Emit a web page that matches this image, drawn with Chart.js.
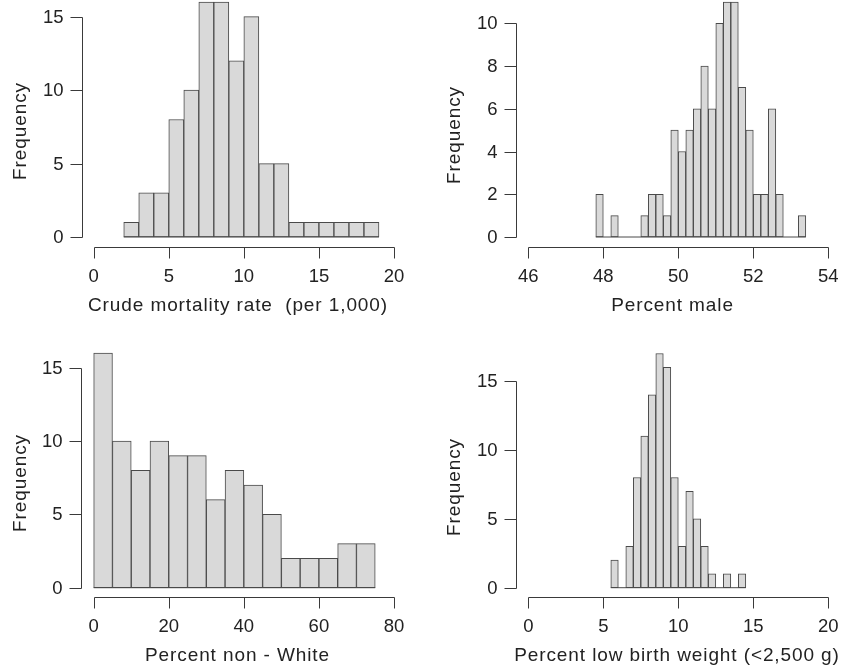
<!DOCTYPE html>
<html>
<head>
<meta charset="utf-8">
<script src="https://cdn.jsdelivr.net/npm/chart.js@4"></script>
<style>
  html, body { margin: 0; padding: 0; background: #ffffff; }
  #wrap { position: relative; width: 846px; height: 672px; overflow: hidden; }
  .panel { position: absolute; }
</style>
</head>
<body>
<div id="wrap">
  <div class="panel" style="left:0px;top:0px;"><canvas id="c1" width="423" height="320"></canvas></div>
  <div class="panel" style="left:423px;top:0px;"><canvas id="c2" width="423" height="320"></canvas></div>
  <div class="panel" style="left:0px;top:320px;"><canvas id="c3" width="423" height="352"></canvas></div>
  <div class="panel" style="left:423px;top:320px;"><canvas id="c4" width="423" height="352"></canvas></div>
</div>
<script>
// ---------- DATA ----------
const mortalityBinStart = 2;
const mortalityBinWidth = 1;
const mortalityCounts = [1, 3, 3, 8, 10, 16, 16, 12, 15, 5, 5, 1, 1, 1, 1, 1, 1];
const mortalityXTicks = [0, 5, 10, 15, 20];
const mortalityYTicks = [0, 5, 10, 15];

const maleBinStart = 47.8;
const maleBinWidth = 0.2;
const maleCounts = [2, 0, 1, 0, 0, 0, 1, 2, 2, 1, 5, 4, 5, 6, 8, 6, 10, 11, 11, 7, 5, 2, 2, 6, 2, 0, 0, 1];
const maleXTicks = [46, 48, 50, 52, 54];
const maleYTicks = [0, 2, 4, 6, 8, 10];

const nonWhiteBinStart = 0;
const nonWhiteBinWidth = 5;
const nonWhiteCounts = [16, 10, 8, 10, 9, 9, 6, 8, 7, 5, 2, 2, 2, 3, 3];
const nonWhiteXTicks = [0, 20, 40, 60, 80];
const nonWhiteYTicks = [0, 5, 10, 15];

const lbwBinStart = 5.5;
const lbwBinWidth = 0.5;
const lbwCounts = [2, 0, 3, 8, 11, 14, 17, 16, 8, 3, 7, 5, 3, 1, 0, 1, 0, 1];
const lbwXTicks = [0, 5, 10, 15, 20];
const lbwYTicks = [0, 5, 10, 15];

const yAxisTitle = "Frequency";
const xTitles = [
  "Crude mortality rate  (per 1,000)",
  "Percent male",
  "Percent non - White",
  "Percent low birth weight (<2,500 g)"
];

// ---------- STYLE ----------
const TEXT = '#222222';
const AXIS = '#3a3a3a';
const BAR_FILL = '#d9d9d9';
const BAR_EDGE = '#4a4a4a';
const TICK_FONT = '18.5px "Liberation Sans", Arial, Helvetica, sans-serif';
const TITLE_FONT = '19px "Liberation Sans", Arial, Helvetica, sans-serif';

const rAxes = {
  id: 'rAxes',
  afterDraw(chart, args, o) {
    const ctx = chart.ctx;
    const xs = chart.scales.x, ys = chart.scales.y;
    const ax = Math.round(chart.chartArea.left) + 0.5;
    const ay = Math.round(chart.chartArea.bottom) + 0.5;
    ctx.save();
    ctx.strokeStyle = AXIS;
    ctx.lineWidth = 1;
    ctx.fillStyle = TEXT;
    // y axis
    const y0 = Math.round(ys.getPixelForValue(o.yTicks[0])) + 0.5;
    const y1 = Math.round(ys.getPixelForValue(o.yTicks[o.yTicks.length - 1])) + 0.5;
    ctx.beginPath();
    ctx.moveTo(ax, y0); ctx.lineTo(ax, y1);
    o.yTicks.forEach(t => {
      const py = Math.round(ys.getPixelForValue(t)) + 0.5;
      ctx.moveTo(ax - 12, py); ctx.lineTo(ax, py);
    });
    ctx.stroke();
    ctx.font = TICK_FONT;
    ctx.textAlign = 'right';
    ctx.textBaseline = 'middle';
    o.yTicks.forEach(t => {
      ctx.fillText(String(t), ax - 19, ys.getPixelForValue(t) + 1);
    });
    // x axis
    const x0 = Math.round(xs.getPixelForValue(o.xTicks[0])) + 0.5;
    const x1 = Math.round(xs.getPixelForValue(o.xTicks[o.xTicks.length - 1])) + 0.5;
    ctx.beginPath();
    ctx.moveTo(x0, ay); ctx.lineTo(x1, ay);
    o.xTicks.forEach(t => {
      const px = Math.round(xs.getPixelForValue(t)) + 0.5;
      ctx.moveTo(px, ay); ctx.lineTo(px, ay + 11);
    });
    ctx.stroke();
    ctx.textAlign = 'center';
    o.xTicks.forEach(t => {
      ctx.fillText(String(t), xs.getPixelForValue(t), ay + 29);
    });
    // titles
    ctx.font = TITLE_FONT;
    try { ctx.letterSpacing = '0.9px'; } catch (e) {}
    ctx.fillText(o.xTitle, o.xTitlePos[0], o.xTitlePos[1]);
    ctx.translate(o.yTitlePos[0], o.yTitlePos[1]);
    ctx.rotate(-Math.PI / 2);
    ctx.fillText(yAxisTitle, 0, 0);
    ctx.restore();
  }
};

function histPoints(start, width, counts) {
  return counts.map((c, i) => ({ x: start + (i + 0.5) * width, y: c }));
}

function makeHist(id, start, width, counts, xTicks, yTicks, xTitle, geo) {
  const end = start + width * counts.length;
  new Chart(document.getElementById(id), {
    data: {
      datasets: [
        {
          type: 'bar',
          data: histPoints(start, width, counts),
          backgroundColor: BAR_FILL,
          borderColor: BAR_EDGE,
          borderWidth: 1,
          borderSkipped: false,
          barPercentage: 1,
          categoryPercentage: 1,
          order: 2
        },
        {
          type: 'line',
          data: [{ x: start, y: 0 }, { x: end, y: 0 }],
          borderColor: BAR_EDGE,
          borderWidth: 1,
          pointRadius: 0,
          order: 1
        }
      ]
    },
    options: {
      responsive: false,
      animation: false,
      devicePixelRatio: 1,
      layout: { padding: geo.pad },
      scales: {
        x: { type: 'linear', display: false, offset: false, grid: { offset: false }, min: geo.xmin, max: geo.xmax },
        y: { type: 'linear', display: false, min: geo.ymin, max: geo.ymax }
      },
      plugins: {
        legend: { display: false },
        tooltip: { enabled: false },
        rAxes: {
          xTicks: xTicks, yTicks: yTicks, xTitle: xTitle,
          xTitlePos: geo.xTitlePos, yTitlePos: geo.yTitlePos
        }
      }
    },
    plugins: [rAxes]
  });
}

makeHist('c1', mortalityBinStart, mortalityBinWidth, mortalityCounts, mortalityXTicks, mortalityYTicks, xTitles[0], {
  pad: { left: 81.7, right: 14, top: 0.5, bottom: 73.3 },
  xmin: -0.8, xmax: 21, ymin: -0.66, ymax: 16.1,
  xTitlePos: [238, 306], yTitlePos: [21, 131]
});
makeHist('c2', maleBinStart, maleBinWidth, maleCounts, maleXTicks, maleYTicks, xTitles[1], {
  pad: { left: 93.3, right: 2.7, top: 0.5, bottom: 73.3 },
  xmin: 45.68, xmax: 54.4, ymin: -0.454, ymax: 11.07,
  xTitlePos: [249.5, 306], yTitlePos: [32, 135]
});
makeHist('c3', nonWhiteBinStart, nonWhiteBinWidth, nonWhiteCounts, nonWhiteXTicks, nonWhiteYTicks, xTitles[2], {
  pad: { left: 81.3, right: 14, top: 30.05, bottom: 75.3 },
  xmin: -3.3, xmax: 84, ymin: -0.613, ymax: 16.2,
  xTitlePos: [237.5, 336], yTitlePos: [21, 163]
});
makeHist('c4', lbwBinStart, lbwBinWidth, lbwCounts, lbwXTicks, lbwYTicks, xTitles[3], {
  pad: { left: 93.3, right: 2.7, top: 19.7, bottom: 75.3 },
  xmin: -0.8, xmax: 21, ymin: -0.653, ymax: 18,
  xTitlePos: [254, 336], yTitlePos: [32, 167]
});
</script>
</body>
</html>
